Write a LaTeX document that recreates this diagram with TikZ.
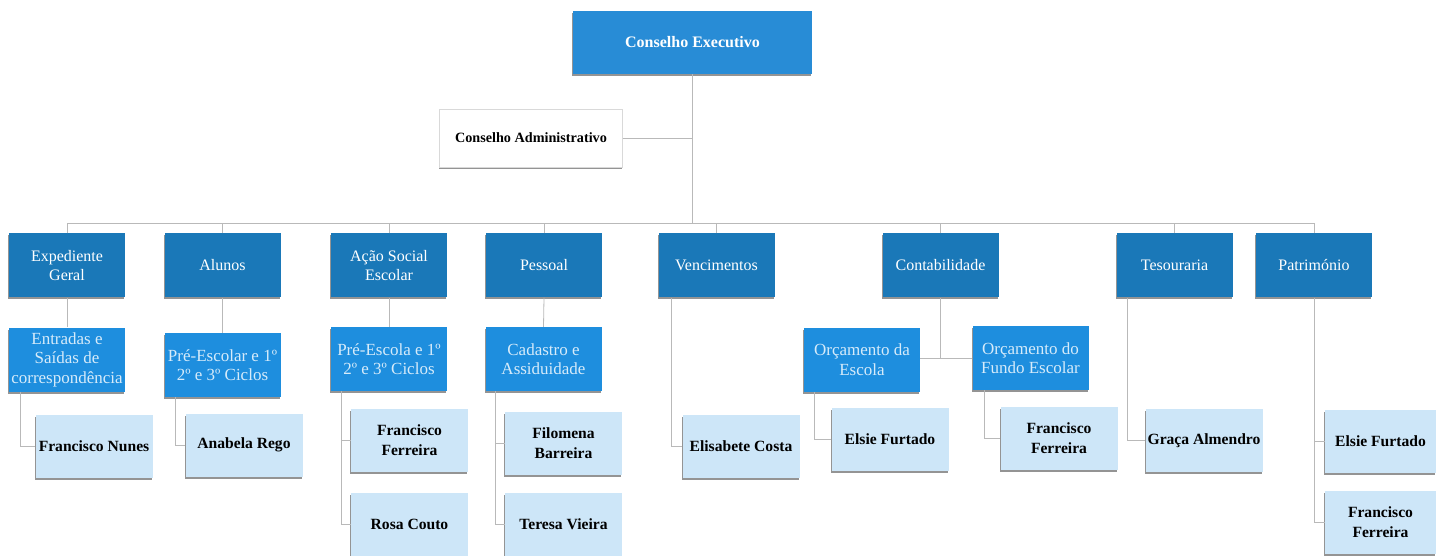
\documentclass[tikz,border=0pt]{standalone}
\usepackage{fontspec}
\setmainfont{Liberation Serif}
\usepackage{tikz}
\usetikzlibrary{shadows}
\definecolor{execblue}{RGB}{40,140,214}
\definecolor{deptblue}{RGB}{26,120,184}
\definecolor{secblue}{RGB}{30,142,222}
\definecolor{staffblue}{RGB}{205,230,248}
\definecolor{sectext}{RGB}{214,235,250}
\tikzset{
  box/.style={rectangle, inner sep=2pt, align=center,
    drop shadow={shadow xshift=-0.6pt, shadow yshift=-2pt, fill=black!70, opacity=0.6}},
  execbox/.style={box, fill=execblue, text=white, minimum width=239pt, minimum height=63pt,
    font=\fontsize{16}{19}\selectfont\bfseries},
  admbox/.style={box, fill=white, draw=gray!30, text=black, minimum width=183pt, minimum height=58pt,
    font=\fontsize{14.2}{17}\selectfont\bfseries},
  dept/.style={box, fill=deptblue, text=white, minimum width=116pt, minimum height=64pt,
    font=\fontsize{16}{18.5}\selectfont},
  sect/.style={box, fill=secblue, text=sectext, minimum width=116pt, minimum height=64pt,
    font=\fontsize{17}{19.5}\selectfont},
  staff/.style={box, fill=staffblue, text=black, minimum width=117pt, minimum height=63pt,
    font=\fontsize{15.6}{20}\selectfont\bfseries},
  link/.style={draw=gray!55, line width=0.8pt}
}
\begin{document}
\begin{tikzpicture}[x=1pt, y=-1pt]
\useasboundingbox (0,0) rectangle (1436,556);

\node[execbox] (exec) at (692.5,42.5) {Conselho Executivo};
\node[admbox] (adm) at (531,138) {Conselho Administrativo};
\coordinate (bus) at (692.5,223);

\node[dept] (exp) at (67,265.5) {Expediente\\Geral};
\node[dept] (alu) at (222.5,265.5) {Alunos};
\node[dept] (aco) at (389,265.5) {Ação Social\\Escolar};
\node[dept] (pes) at (544,265.5) {Pessoal};
\node[dept] (ven) at (716.5,265.5) {Vencimentos};
\node[dept] (con) at (940.5,265.5) {Contabilidade};
\node[dept] (tes) at (1174.5,265.5) {Tesouraria};
\node[dept] (pat) at (1314,265.5) {Património};

\node[sect] (ent) at (67,359.5) {Entradas e\\Saídas de\\correspondência};
\node[sect] (pre1) at (222.5,365) {Pré-Escolar e 1º\\2º e 3º Ciclos};
\node[sect] (pre2) at (389,359) {Pré-Escola e 1º\\2º e 3º Ciclos};
\node[sect] (cad) at (543.5,359) {Cadastro e\\Assiduidade};
\node[sect] (oesc) at (862,359.5) {Orçamento da\\Escola};
\node[sect] (ofun) at (1030.5,358) {Orçamento do\\Fundo Escolar};

\node[staff] (fnu) at (94,446) {Francisco Nunes};
\node[staff] (are) at (244,445) {Anabela Rego};
\node[staff] (ffa) at (409.5,440.5) {Francisco\\Ferreira};
\node[staff] (rco) at (409.5,524.5) {Rosa Couto};
\node[staff] (fba) at (563.5,443.5) {Filomena\\Barreira};
\node[staff] (tvi) at (563.5,524) {Teresa Vieira};
\node[staff] (eco) at (741,446) {Elisabete Costa};
\node[staff] (efa) at (890,439) {Elsie Furtado};
\node[staff] (ffb) at (1059,438.5) {Francisco\\Ferreira};
\node[staff] (gal) at (1204,440.5) {Graça Almendro};
\node[staff, minimum width=111pt] (efb) at (1380.5,441) {Elsie Furtado};
\node[staff, minimum width=111pt] (ffc) at (1380.5,522.5) {Francisco\\Ferreira};

\draw[link] (exec.south) -- (bus);
\draw[link] (adm.east) -- (adm.east -| exec.south);
\draw[link] (exp.north |- bus) -- (pat.north |- bus);
\foreach \d in {exp,alu,aco,pes,ven,con,tes,pat}
  \draw[link] (\d.north) -- (\d.north |- bus);

\foreach \d/\s in {exp/ent,alu/pre1,aco/pre2,pes/cad}
  \draw[link] (\d.south) -- (\s.north);
\draw[link] (con.south) -- (con.south |- ofun.west);
\draw[link] (oesc.east |- ofun.west) -- (ofun.west);

\draw[link] ([xshift=12pt]ent.south west) |- (fnu.west);
\draw[link] ([xshift=11pt]pre1.south west) |- (are.west);
\draw[link] ([xshift=11pt]pre2.south west) |- (ffa.west);
\draw[link] ([xshift=11pt]pre2.south west) |- (rco.west);
\draw[link] ([xshift=10pt]cad.south west) |- (fba.west);
\draw[link] ([xshift=10pt]cad.south west) |- (tvi.west);
\draw[link] ([xshift=13pt]ven.south west) |- (eco.west);
\draw[link] ([xshift=11pt]oesc.south west) |- (efa.west);
\draw[link] ([xshift=12pt]ofun.south west) |- (ffb.west);
\draw[link] ([xshift=11pt]tes.south west) |- (gal.west);
\draw[link] (pat.south) |- (efb.west);
\draw[link] (pat.south) |- (ffc.west);
\end{tikzpicture}
\end{document}
